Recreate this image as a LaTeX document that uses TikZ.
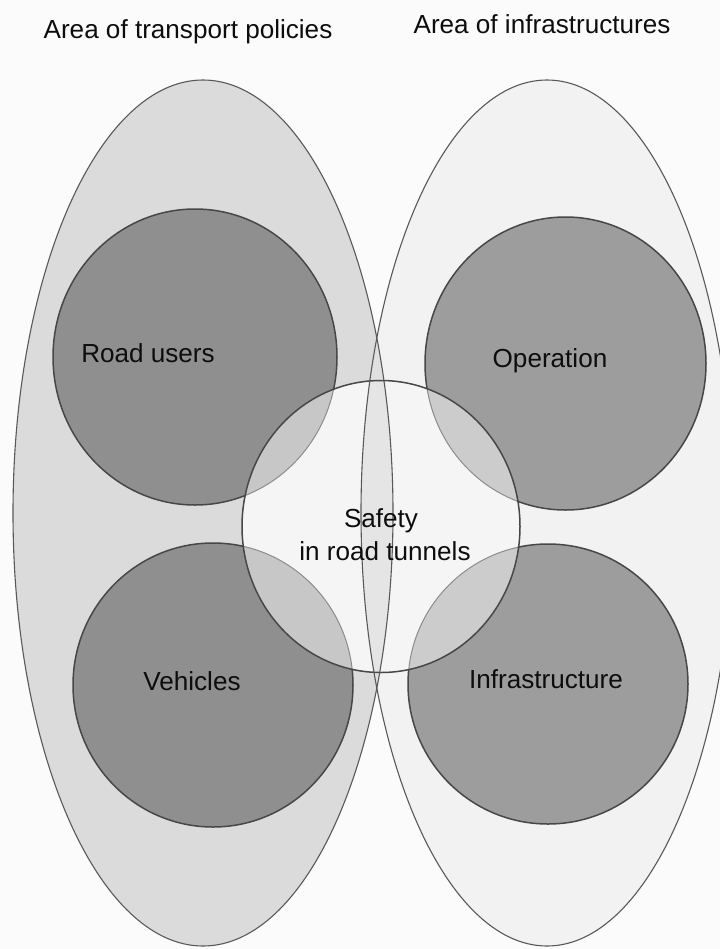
\documentclass[tikz,border=0pt]{standalone}
\usepackage{fontspec}
\setmainfont{Liberation Sans}
\begin{document}
\begin{tikzpicture}[x=1bp,y=-1bp,
  ellline/.style={draw=black!65, line width=1.1bp},
  ringline/.style={draw=black!72, line width=1.5bp},
  innerarc/.style={draw=black!45, line width=1bp},
  lbl/.style={font=\fontsize{26.2}{32}\selectfont, text=black!95, inner sep=0pt, anchor=base}]
\useasboundingbox (0,0) rectangle (720,949);
\fill[black!1.5] (0,0) rectangle (720,949);

% geometry of the two areas, the four fields and the centre
\def\leftarea{(203,513) ellipse [x radius=190, y radius=433]}
\def\rightarea{(547,513) ellipse [x radius=186, y radius=433]}
\def\ringRU{(195,357) ellipse [x radius=142, y radius=148]}
\def\ringOP{(565.5,363.5) ellipse [x radius=140.5, y radius=146.5]}
\def\ringVE{(213,685) ellipse [x radius=140, y radius=142]}
\def\ringIN{(548,684) ellipse [x radius=140, y radius=140]}
\def\core{(381,526.5) ellipse [x radius=139, y radius=146]}

% areas
\fill[black!14] \leftarea;
\fill[black!5] \rightarea;
\begin{scope}
  \clip \leftarea;
  \fill[black!12] \rightarea;
\end{scope}

% fields
\fill[black!44] \ringRU;
\fill[black!44] \ringVE;
\fill[black!38.5] \ringOP;
\fill[black!38.5] \ringIN;
\draw[ringline] \ringRU;
\draw[ringline] \ringVE;
\draw[ringline] \ringOP;
\draw[ringline] \ringIN;

% centre with its overlaps
\fill[black!4] \core;
\begin{scope}
  \clip \core;
  \begin{scope}
    \clip \leftarea;
    \fill[black!10] \rightarea;
  \end{scope}
  \fill[black!22] \ringRU;
  \fill[black!22] \ringVE;
  \fill[black!20] \ringOP;
  \fill[black!20] \ringIN;
  \draw[innerarc] \ringRU;
  \draw[innerarc] \ringVE;
  \draw[innerarc] \ringOP;
  \draw[innerarc] \ringIN;
\end{scope}
\draw[ringline] \core;

% area outlines
\draw[ellline] \leftarea;
\draw[ellline] \rightarea;

% labels
\node[lbl] (tpol) at (188,38) {Area of transport policies};
\node[lbl] (tinf) at (542,33) {Area of infrastructures};
\node[lbl] (ru) at (148,362) {Road users};
\node[lbl] (op) at (550,367) {Operation};
\node[lbl] (ve) at (192,690) {Vehicles};
\node[lbl] (in) at (546,688) {Infrastructure};
\node[lbl] (s1) at (381,527) {Safety};
\node[lbl] (s2) at (385,560) {in road tunnels};
\end{tikzpicture}
\end{document}
